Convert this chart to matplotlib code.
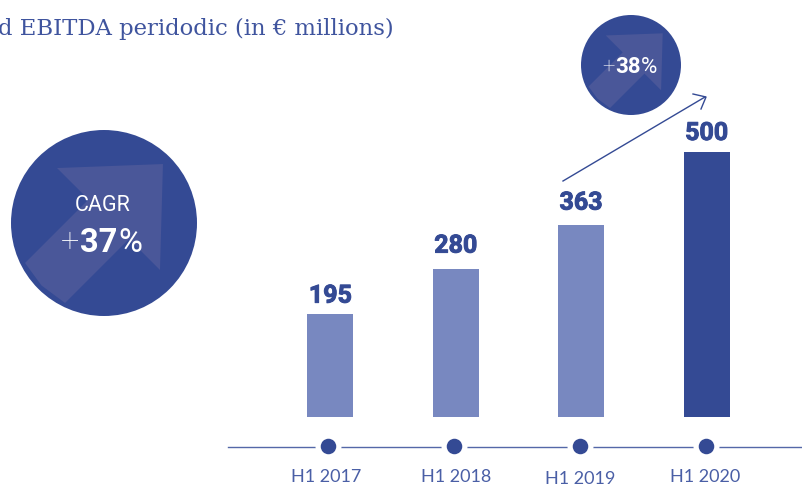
import numpy as np
import matplotlib
matplotlib.use("Agg")
import matplotlib.pyplot as plt
import matplotlib.patheffects as pe
from matplotlib.patches import Circle, Polygon

periods = ["H1 2017", "H1 2018", "H1 2019", "H1 2020"]
ebitda = [195, 280, 363, 500]
title_text = "d EBITDA peridodic (in € millions)"
cagr_label = "CAGR"
cagr_value = "37"
growth_value = "38"

W, H = 803, 484
DARK = "#344a94"
LIGHT = "#7888c0"
ARROW = "#4a5799"

# arrow inside the badges, in units of the badge radius
arrow_shape = np.array([
    [-0.505, -0.591], [0.634, -0.634], [0.602, 0.505], [0.269, 0.172],
    [-0.419, 0.86], [-0.672, 0.672], [-0.849, 0.43], [-0.166, -0.253],
])


def badge(ax, cx, cy, r):
    disc = Circle((cx, cy), r, color=DARK, lw=0, zorder=1)
    ax.add_patch(disc)
    pts = arrow_shape * r + [cx, cy]
    ax.add_patch(Polygon(pts, closed=True, color=ARROW, lw=0, zorder=2))


def text_run(ax, x, y, parts, gap=0):
    # lays text pieces one after another, each with its own weight and size
    renderer = ax.figure.canvas.get_renderer()
    inv = ax.transData.inverted()
    for s, weight, size in parts:
        t = ax.text(x, y, s, family="Roboto", fontweight=weight, fontsize=size,
                    color="white", ha="left", va="baseline", zorder=3)
        box = t.get_window_extent(renderer)
        x0 = inv.transform((box.x0, 0))[0]
        x1 = inv.transform((box.x1, 0))[0]
        x += (x1 - x0) + gap


fig = plt.figure(figsize=(W / 100, H / 100), dpi=100)

# overlay in pixel units for the decoration
deco = fig.add_axes([0, 0, 1, 1])
deco.set_xlim(0, W)
deco.set_ylim(H, 0)
deco.axis("off")

# bars: 0 sits on y=417, 500 reaches y=152
px_per_unit = (417 - 152) / 500
px_per_step = 125.4
first_bar = 330.3
ax = fig.add_axes([0, 0, 1, 1], facecolor="none")
ax.set_xlim(-first_bar / px_per_step, (W - first_bar) / px_per_step)
ax.set_ylim(-(H - 417) / px_per_unit, 417 / px_per_unit)
ax.axis("off")

xs = np.arange(len(ebitda))
colors = [LIGHT] * (len(ebitda) - 1) + [DARK]
ax.bar(xs, ebitda, width=46 / px_per_step, color=colors, lw=0)
label_gap = [11, 16, 15, 12]
for x, v, gap in zip(xs, ebitda, label_gap):
    ax.annotate(str(v), (x, v), xytext=(0, gap), textcoords="offset pixels",
                ha="center", va="baseline", family="Roboto", fontweight="bold",
                fontsize=18, color=DARK,
                path_effects=[pe.withStroke(linewidth=0.7, foreground=DARK)])

# timeline under the bars
deco.plot([228, W], [446.5, 446.5], color="#5468a8", lw=1, zorder=1)
dot_x = 328 + 126 * xs
deco.scatter(dot_x, [446] * len(xs), s=350, color="white", lw=0, zorder=2)
deco.scatter(dot_x, [446] * len(xs), s=125, color=DARK, lw=0, zorder=3)
label_dx = [-2, 2, 0, -1]
label_dy = [0, 0, 2, 0]
for x, name, dx, dy in zip(dot_x, periods, label_dx, label_dy):
    deco.text(x + dx, 482.5 + dy, name, ha="center", va="baseline",
              family="Lato", fontsize=13, color="#4a5fa6")

deco.text(394, 35, title_text, ha="right", va="baseline",
          family="DejaVu Serif", fontsize=16.4, color="#3f549e")

# growth badges
fig.canvas.draw()
badge(deco, 104, 223, 93)
deco.text(103, 211, cagr_label, ha="center", va="baseline", family="Roboto",
          fontsize=15.5, color="white", zorder=3)
text_run(deco, 61, 252, [("+", "light", 23.5),
                         (cagr_value, "bold", 23.5),
                         ("%", "normal", 23.5)], gap=1)

badge(deco, 631, 65, 50)
text_run(deco, 602, 73, [("+", "light", 16),
                         (growth_value, "bold", 16),
                         ("%", "normal", 16)], gap=0.5)

# arrow from the 2019 bar towards the 2020 bar
deco.plot([563, 705], [181, 97], color=DARK, lw=1)
deco.plot([693, 706, 701], [94, 97, 109], color=DARK, lw=1)

fig.savefig("out.png", dpi=100)
